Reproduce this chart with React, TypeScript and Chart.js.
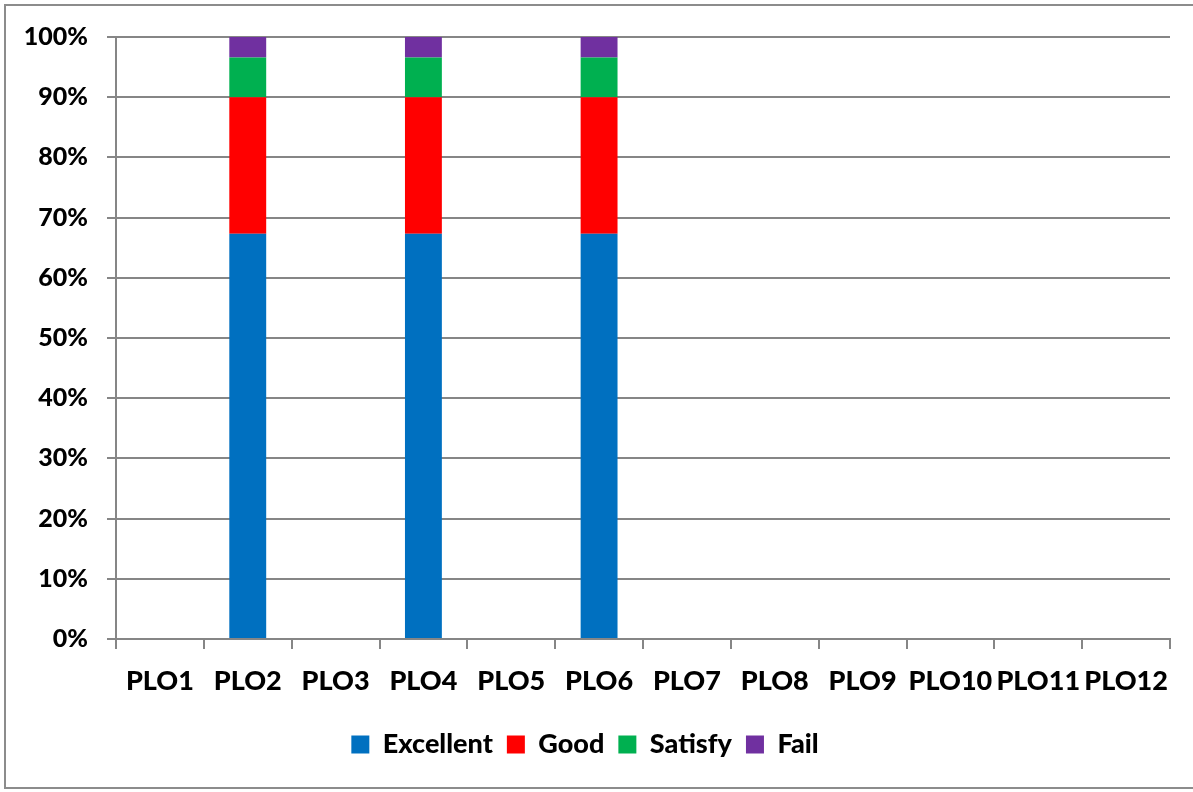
import React, { useEffect, useRef } from "react";
import { Chart, registerables } from "chart.js";

Chart.register(...registerables);

const categories = ["PLO1", "PLO2", "PLO3", "PLO4", "PLO5", "PLO6", "PLO7", "PLO8", "PLO9", "PLO10", "PLO11", "PLO12"];
const excellent = [0, 67.3, 0, 67.3, 0, 67.3, 0, 0, 0, 0, 0, 0];
const good = [0, 22.7, 0, 22.7, 0, 22.7, 0, 0, 0, 0, 0, 0];
const satisfy = [0, 6.6, 0, 6.6, 0, 6.6, 0, 0, 0, 0, 0, 0];
const fail = [0, 3.4, 0, 3.4, 0, 3.4, 0, 0, 0, 0, 0, 0];
const yTicks = [0, 10, 20, 30, 40, 50, 60, 70, 80, 90, 100];

const FONT = "Lato, 'DejaVu Sans', sans-serif";
const GRID = "#868686";

export default function App() {
  const ref = useRef<HTMLCanvasElement | null>(null);

  useEffect(() => {
    if (!ref.current) return;
    const chart = new Chart(ref.current, {
      type: "bar",
      data: {
        labels: categories,
        datasets: [
          { label: "Excellent", data: excellent, backgroundColor: "#0070C0" },
          { label: "Good", data: good, backgroundColor: "#FF0000" },
          { label: "Satisfy", data: satisfy, backgroundColor: "#00B050" },
          { label: "Fail", data: fail, backgroundColor: "#7030A0" },
        ],
      },
      options: {
        animation: false,
        responsive: false,
        devicePixelRatio: 1,
        layout: { padding: { top: 37, left: 0, right: 23, bottom: 24 } },
        datasets: { bar: { barPercentage: 0.42, categoryPercentage: 1, borderWidth: 0 } },
        plugins: {
          tooltip: { enabled: false },
          legend: {
            position: "bottom",
            labels: {
              boxWidth: 18,
              boxHeight: 18,
              padding: 14,
              color: "#000",
              font: { family: FONT, size: 27, weight: "900" },
            },
          },
        },
        scales: {
          x: {
            stacked: true,
            grid: { drawOnChartArea: false, drawTicks: true, tickLength: 10, color: GRID, lineWidth: 2, offset: true },
            border: { color: GRID, width: 2 },
            ticks: { color: "#000", font: { family: FONT, size: 27, weight: "900" }, padding: 16, maxRotation: 0, autoSkip: false },
            afterFit: (s: any) => { s.height = 78; },
          },
          y: {
            stacked: true,
            min: 0,
            max: 100,
            afterBuildTicks: (s: any) => { s.ticks = yTicks.map((v) => ({ value: v })); },
            grid: { color: GRID, lineWidth: 2, drawTicks: true, tickLength: 9 },
            border: { color: GRID, width: 2 },
            ticks: {
              color: "#000",
              font: { family: FONT, size: 25, weight: "900" },
              padding: 19,
              callback: (v: any) => v + "%",
            },
            afterFit: (s: any) => { s.width = 116; },
          },
        },
      },
    });
    return () => chart.destroy();
  }, []);

  return (
    <div style={{ position: "fixed", left: 0, top: 0, width: 1193, height: 792, overflow: "hidden", background: "#fff" }}>
      <div style={{ position: "absolute", left: 4, top: 4, width: 1210, height: 785, boxSizing: "border-box", border: "2px solid #8c8c8c" }} />
      <canvas ref={ref} width={1193} height={792} style={{ position: "absolute", left: 0, top: 0, width: 1193, height: 792 }} />
    </div>
  );
}
